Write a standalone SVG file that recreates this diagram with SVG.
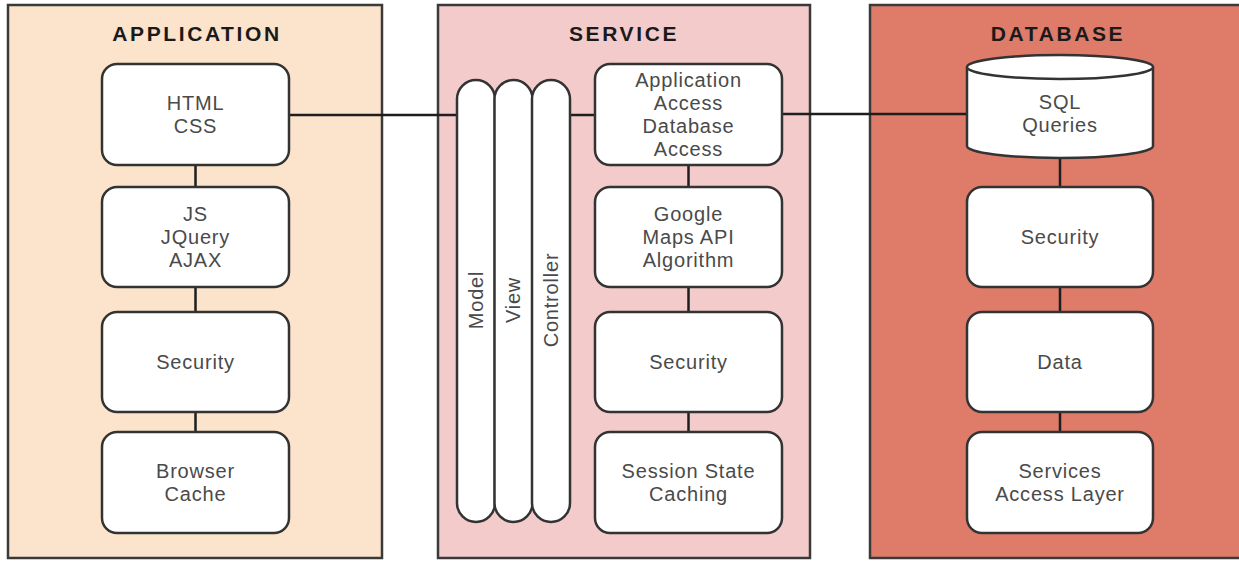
<svg xmlns="http://www.w3.org/2000/svg" width="1239" height="561" viewBox="0 0 1239 561">
<style>
.container{stroke:#3a3a3a;stroke-width:2.5}
.title{font-family:"Liberation Sans",Arial,sans-serif;font-weight:bold;font-size:21px;letter-spacing:2.6px;fill:#1a1a1a;text-anchor:middle}
.box{fill:#ffffff;stroke:#333333;stroke-width:2.5}
.lbl{font-family:"Liberation Sans",Arial,sans-serif;font-size:20px;letter-spacing:0.8px;fill:#4a4a4a;text-anchor:middle}
.conn{stroke:#1e1e1e;stroke-width:2.5;fill:none}
</style>
<rect width="1239" height="561" fill="#ffffff"/>
<g id="app-container">
<rect class="container" x="8" y="5" width="374" height="553" fill="#fce4cc"/>
<text class="title" x="197" y="41">APPLICATION</text>
</g>
<g id="service-container">
<rect class="container" x="438" y="5" width="372" height="553" fill="#f4cbcb"/>
<text class="title" x="624" y="41">SERVICE</text>
</g>
<g id="db-container">
<rect class="container" x="870" y="5" width="380" height="553" fill="#de7b69"/>
<text class="title" x="1058" y="41">DATABASE</text>
</g>
<g id="connectors">
<line class="conn" x1="289" y1="115" x2="457" y2="115"/>
<line class="conn" x1="570" y1="115" x2="595" y2="115"/>
<line class="conn" x1="782" y1="114" x2="967" y2="114"/>
<line class="conn" x1="195.5" y1="165" x2="195.5" y2="187"/>
<line class="conn" x1="195.5" y1="287" x2="195.5" y2="312"/>
<line class="conn" x1="195.5" y1="412" x2="195.5" y2="432"/>
<line class="conn" x1="688.5" y1="165" x2="688.5" y2="187"/>
<line class="conn" x1="688.5" y1="287" x2="688.5" y2="312"/>
<line class="conn" x1="688.5" y1="412" x2="688.5" y2="432"/>
<line class="conn" x1="1060" y1="158" x2="1060" y2="187"/>
<line class="conn" x1="1060" y1="287" x2="1060" y2="312"/>
<line class="conn" x1="1060" y1="412" x2="1060" y2="432"/>
</g>
<g id="app-html">
<rect class="box" x="102" y="64" width="187" height="101" rx="15"/>
<text class="lbl" x="195.5" y="110">HTML</text>
<text class="lbl" x="195.5" y="133">CSS</text>
</g>
<g id="app-js">
<rect class="box" x="102" y="187" width="187" height="100" rx="15"/>
<text class="lbl" x="195.5" y="221">JS</text>
<text class="lbl" x="195.5" y="244">JQuery</text>
<text class="lbl" x="195.5" y="267">AJAX</text>
</g>
<g id="app-security">
<rect class="box" x="102" y="312" width="187" height="100" rx="15"/>
<text class="lbl" x="195.5" y="369">Security</text>
</g>
<g id="app-cache">
<rect class="box" x="102" y="432" width="187" height="101" rx="15"/>
<text class="lbl" x="195.5" y="478">Browser</text>
<text class="lbl" x="195.5" y="501">Cache</text>
</g>
<g id="svc-model">
<rect class="box" x="457" y="80" width="38" height="442" rx="19"/>
<text class="lbl" transform="translate(483,300) rotate(-90)" x="0" y="0">Model</text>
</g>
<g id="svc-view">
<rect class="box" x="494.5" y="80" width="38" height="442" rx="19"/>
<text class="lbl" transform="translate(520,300) rotate(-90)" x="0" y="0">View</text>
</g>
<g id="svc-controller">
<rect class="box" x="532" y="80" width="38" height="442" rx="19"/>
<text class="lbl" transform="translate(558,300) rotate(-90)" x="0" y="0">Controller</text>
</g>
<g id="svc-access">
<rect class="box" x="595" y="64" width="187" height="101" rx="15"/>
<text class="lbl" x="688.5" y="87">Application</text>
<text class="lbl" x="688.5" y="110">Access</text>
<text class="lbl" x="688.5" y="133">Database</text>
<text class="lbl" x="688.5" y="156">Access</text>
</g>
<g id="svc-google">
<rect class="box" x="595" y="187" width="187" height="100" rx="15"/>
<text class="lbl" x="688.5" y="221">Google</text>
<text class="lbl" x="688.5" y="244">Maps API</text>
<text class="lbl" x="688.5" y="267">Algorithm</text>
</g>
<g id="svc-security">
<rect class="box" x="595" y="312" width="187" height="100" rx="15"/>
<text class="lbl" x="688.5" y="369">Security</text>
</g>
<g id="svc-session">
<rect class="box" x="595" y="432" width="187" height="101" rx="15"/>
<text class="lbl" x="688.5" y="478">Session State</text>
<text class="lbl" x="688.5" y="501">Caching</text>
</g>
<g id="db-sql">
<path class="box" d="M967,67 L967,146 A93,12 0 0 0 1153,146 L1153,67 A93,12 0 0 0 967,67 Z"/>
<path class="box" fill="none" d="M967,67 A93,12 0 0 0 1153,67"/>
<text class="lbl" x="1060" y="109">SQL</text>
<text class="lbl" x="1060" y="132">Queries</text>
</g>
<g id="db-security">
<rect class="box" x="967" y="187" width="186" height="100" rx="15"/>
<text class="lbl" x="1060" y="244">Security</text>
</g>
<g id="db-data">
<rect class="box" x="967" y="312" width="186" height="100" rx="15"/>
<text class="lbl" x="1060" y="369">Data</text>
</g>
<g id="db-sal">
<rect class="box" x="967" y="432" width="186" height="101" rx="15"/>
<text class="lbl" x="1060" y="478">Services</text>
<text class="lbl" x="1060" y="501">Access Layer</text>
</g>
</svg>
